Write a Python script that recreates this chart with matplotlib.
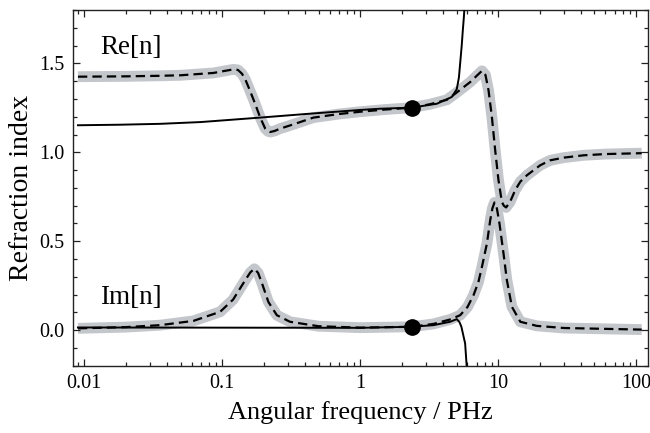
import matplotlib
matplotlib.use("Agg")
import matplotlib.pyplot as plt
from matplotlib.ticker import LogLocator, MultipleLocator, FixedFormatter, FixedLocator, NullFormatter

plt.rcParams['font.family'] = ['Liberation Serif', 'DejaVu Serif']

# Re[n] of the full model (gray band + dashed fit)
re_x = [0.009, 0.02, 0.035, 0.05, 0.0863, 0.105, 0.1205, 0.13, 0.139, 0.147, 0.155, 0.164,
        0.173, 0.188, 0.205, 0.215, 0.223, 0.24, 0.263, 0.328, 0.458, 0.7, 1.0, 1.5, 2.37,
        3.2, 4.25, 4.9, 5.6, 6.28, 7.0, 7.64, 8.1, 8.53, 9.02, 9.53, 10.07, 10.65, 11.0,
        11.43, 12.2, 13.3, 14.5, 16.2, 20.2, 23.9, 30, 41.6, 60, 110]
re_y = [1.425, 1.427, 1.430, 1.433, 1.446, 1.458, 1.466, 1.463, 1.442, 1.41, 1.367, 1.32,
        1.274, 1.198, 1.133, 1.118, 1.114, 1.12, 1.133, 1.157, 1.195, 1.215, 1.228, 1.240, 1.251,
        1.27, 1.295, 1.33, 1.365, 1.395, 1.43, 1.458, 1.435, 1.348, 1.198, 1.011, 0.843, 0.721, 0.70,
        0.69, 0.72, 0.787, 0.835, 0.871, 0.927, 0.955, 0.97, 0.983, 0.99, 0.995]

# Im[n] of the full model
im_x = [0.009, 0.02, 0.0355, 0.0618, 0.0966, 0.12, 0.1466, 0.16, 0.171, 0.182, 0.194, 0.216,
        0.249, 0.31, 0.5, 1.0, 2.37, 3.4, 4.49, 5.31, 6.0, 6.64, 7.2, 7.64, 8.3, 8.77, 9.1,
        9.42, 9.8, 10.24, 10.95, 11.58, 12.6, 14.5, 19.1, 30, 110]
im_y = [0.010, 0.017, 0.028, 0.052, 0.103, 0.172, 0.28, 0.325, 0.345, 0.322, 0.265, 0.159,
        0.084, 0.047, 0.022, 0.014, 0.019, 0.035, 0.06, 0.084, 0.13, 0.197, 0.27, 0.356, 0.487, 0.618, 0.685,
        0.718, 0.685, 0.599, 0.431, 0.281, 0.131, 0.047, 0.024, 0.012, 0.003]

# low-frequency expansion (thin black)
re_ap_x = [0.009, 0.018, 0.0355, 0.07, 0.188, 0.4, 1.0, 1.4, 2.37, 3.6, 4.62, 5.02, 5.2, 5.31,
           5.45, 5.55, 5.65, 5.75]
re_ap_y = [1.152, 1.155, 1.160, 1.170, 1.195, 1.215, 1.238, 1.245, 1.251, 1.273, 1.311, 1.355,
           1.42, 1.50, 1.60, 1.685, 1.76, 1.85]
im_ap_x = [0.009, 0.1, 1.0, 2.37, 3.4, 4.49, 5.02, 5.25, 5.42, 5.6, 5.77, 5.93]
im_ap_y = [0.015, 0.014, 0.013, 0.019, 0.028, 0.047, 0.062, 0.045, 0.019, -0.03, -0.075, -0.21]

# expansion point
pt_x = [2.37, 2.37]
pt_y = [1.251, 0.019]

xticks = [0.01, 0.1, 1, 10, 100]
xtick_labels = ['0.01', '0.1', '1', '10', '100']
yticks = [0.0, 0.5, 1.0, 1.5]

GRAY = '#c3c6ca'

fig = plt.figure(figsize=(6.5, 4.33), dpi=100)
ax = fig.add_axes([0.1118, 0.1554, 0.8847, 0.8215])

for xs, ys in [(re_x, re_y), (im_x, im_y)]:
    ax.plot(xs, ys, color=GRAY, lw=7.8, solid_capstyle='butt', solid_joinstyle='round', zorder=1)
    ax.plot(xs, ys, color='black', lw=1.6, dashes=(4.2, 2.3), zorder=2)

ax.plot(re_ap_x, re_ap_y, color='black', lw=1.4, zorder=3)
ax.plot(im_ap_x, im_ap_y, color='black', lw=1.4, zorder=3)
ax.plot(pt_x, pt_y, 'o', color='black', ms=11, zorder=4)

ax.set_xscale('log')
ax.set_xlim(0.00824, 121.6)
ax.set_ylim(-0.2, 1.8)

ax.xaxis.set_major_locator(FixedLocator(xticks))
ax.xaxis.set_major_formatter(FixedFormatter(xtick_labels))
ax.xaxis.set_minor_locator(LogLocator(base=10, subs=range(2, 10)))
ax.xaxis.set_minor_formatter(NullFormatter())
ax.yaxis.set_major_locator(FixedLocator(yticks))
ax.yaxis.set_minor_locator(MultipleLocator(0.1))
ax.yaxis.set_major_formatter(plt.FuncFormatter(lambda v, p: f"{v:.1f}"))

ax.tick_params(which='both', direction='in', top=True, right=True, width=0.9, colors='#222222',
               labelcolor='black')
ax.tick_params(which='major', length=5, labelsize=14.5, pad=6)
ax.tick_params(which='minor', length=2.6)
for s in ax.spines.values():
    s.set_linewidth(1.0)
    s.set_color('#222222')

ax.text(0.013, 1.55, 'Re[n]', fontsize=19.5, va='baseline', ha='left')
ax.text(0.013, 0.146, 'Im[n]', fontsize=19.5, va='baseline', ha='left')

ax.set_xlabel('Angular frequency / PHz', fontsize=19, labelpad=6)
ax.set_ylabel('Refraction index', fontsize=20, labelpad=4)

fig.savefig('out.png', dpi=100)
